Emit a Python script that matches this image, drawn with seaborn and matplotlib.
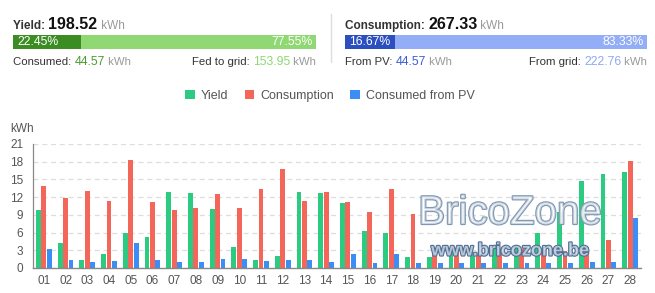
import matplotlib
matplotlib.use("Agg")
import matplotlib.pyplot as plt
import matplotlib.patheffects as pe
import numpy as np
import pandas as pd
import seaborn as sns

# ---------------- data ----------------
days = [f"{d:02d}" for d in range(1, 29)]
yield_kwh = [9.9, 4.3, 1.4, 2.3, 5.9, 5.3, 12.9, 12.7, 10.05, 3.5, 1.4, 2.1, 12.8, 12.7,
             11.0, 6.3, 5.9, 1.9, 1.8, 2.6, 2.6, 3.4, 3.4, 5.9, 9.5, 14.8, 15.9, 16.3]
consumption_kwh = [13.9, 11.9, 13.1, 11.3, 18.3, 11.2, 9.9, 10.2, 12.5, 10.2, 13.3, 16.7, 11.4, 12.8,
                   11.2, 9.5, 13.3, 9.15, 3.1, 2.7, 2.4, 3.1, 3.2, 3.0, 2.9, 3.6, 4.8, 18.2]
from_pv_kwh = [3.3, 1.3, 1.1, 1.2, 4.2, 1.4, 1.0, 1.0, 1.6, 1.6, 1.2, 1.35, 1.3, 1.1,
               2.3, 0.85, 2.4, 0.85, 0.9, 0.85, 0.85, 0.85, 0.8, 0.85, 0.85, 0.95, 1.0, 8.5]
series_names = ["Yield", "Consumption", "Consumed from PV"]
y_ticks = [0, 3, 6, 9, 12, 15, 18, 21]

yield_total = 198.52
consumption_total = 267.33
consumed_pv = 44.57
fed_to_grid = 153.95
from_grid = 222.76
yield_pcts = [22.45, 77.55]
cons_pcts = [16.67, 83.33]

# ---------------- style ----------------
sns.set_theme(style="white")
plt.rcParams["font.family"] = ["Liberation Sans", "DejaVu Sans"]

C_GREEN, C_RED, C_BLUE = "#2ccb82", "#f5665a", "#3b8ef5"
C_DKGREEN, C_LTGREEN = "#3b8c22", "#8fd873"
C_DKBLUE, C_LTBLUE = "#2c4fbf", "#93adf6"
TXT = "#333333"
GRAY = "#999999"

W, H = 655, 293
fig = plt.figure(figsize=(W / 100, H / 100), dpi=100)
fig.patch.set_facecolor("white")
renderer = fig.canvas.get_renderer()


def fx(px):
    return px / W


def fy(py):
    return 1 - py / H


def text_seq(x_px, y_px, pieces, align="left"):
    """pieces: list of (text, size, weight, color)."""
    objs = []
    for s, size, weight, color in pieces:
        t = fig.text(0, fy(y_px), s, fontsize=size, fontweight=weight, color=color,
                     va="baseline")
        objs.append(t)
    widths = [t.get_window_extent(renderer=renderer).width for t in objs]
    total = sum(widths)
    x = x_px if align == "left" else x_px - total
    for t, w in zip(objs, widths):
        t.set_x(fx(x))
        x += w
    return objs


# ---------------- header ----------------
text_seq(13, 29, [("Yield: ", 8.5, "bold", TXT), (f"{yield_total:.2f}", 11.5, "bold", "#111111"),
                  (" kWh", 8.5, "normal", GRAY)])
text_seq(345, 29, [("Consumption: ", 8.5, "bold", TXT), (f"{consumption_total:.2f}", 11.5, "bold", "#111111"),
                   (" kWh", 8.5, "normal", GRAY)])

# stacked percentage bars
for (x0, x1, pcts, cols) in [(13, 316, yield_pcts, (C_DKGREEN, C_LTGREEN)),
                             (345, 647, cons_pcts, (C_DKBLUE, C_LTBLUE))]:
    hax = fig.add_axes([fx(x0), fy(49), fx(x1 - x0), (49 - 35) / H])
    hax.barh([0], [pcts[0]], color=cols[0], height=1.0, linewidth=0)
    hax.barh([0], [pcts[1]], left=[pcts[0]], color=cols[1], height=1.0, linewidth=0)
    hax.set_xlim(0, 100)
    hax.set_ylim(-0.5, 0.5)
    hax.axis("off")
    hax.text(1.3, 0, f"{pcts[0]:.2f}%", color="white", fontsize=8.8, va="center", ha="left")
    hax.text(98.8, 0, f"{pcts[1]:.2f}%", color="white", fontsize=8.8, va="center", ha="right")

text_seq(13, 65, [("Consumed: ", 8.2, "normal", TXT), (f"{consumed_pv:.2f}", 8.8, "normal", "#4a9e2e"),
                  (" kWh", 8.2, "normal", GRAY)])
text_seq(316, 65, [("Fed to grid: ", 8.2, "normal", TXT), (f"{fed_to_grid:.2f}", 8.8, "normal", C_LTGREEN),
                   (" kWh", 8.2, "normal", GRAY)], align="right")
text_seq(345, 65, [("From PV: ", 8.2, "normal", TXT), (f"{consumed_pv:.2f}", 8.8, "normal", "#3a5fd6"),
                   (" kWh", 8.2, "normal", GRAY)])
text_seq(647, 65, [("From grid: ", 8.2, "normal", TXT), (f"{from_grid:.2f}", 8.8, "normal", "#8ea8f3"),
                   (" kWh", 8.2, "normal", GRAY)], align="right")

fig.add_artist(plt.Line2D([fx(330.5), fx(330.5)], [fy(14), fy(62)], color="#dddddd", lw=1))

# ---------------- main chart ----------------
df = pd.DataFrame({
    "day": days * 3,
    "value": yield_kwh + consumption_kwh + from_pv_kwh,
    "series": [series_names[0]] * 28 + [series_names[1]] * 28 + [series_names[2]] * 28,
})

ax = fig.add_axes([fx(33), fy(268), fx(641 - 33), (268 - 144) / H])
sns.barplot(data=df, x="day", y="value", hue="series", order=days, hue_order=series_names,
            palette=[C_GREEN, C_RED, C_BLUE], width=0.75, gap=0.08, ax=ax,
            saturation=1, linewidth=0, legend=True)
ax.set_ylim(0, 21)
ax.set_xlim(-0.5, 27.5)
ax.set_yticks(y_ticks)
ax.set_xlabel("")
ax.set_ylabel("")
ax.yaxis.grid(True, linestyle=(0, (4, 3)), color="#dddddd", linewidth=0.9)
ax.set_axisbelow(True)
for s in ["top", "right"]:
    ax.spines[s].set_visible(False)
ax.spines["left"].set_color("#888888")
ax.spines["bottom"].set_color("#888888")
ax.spines["left"].set_linewidth(0.9)
ax.spines["bottom"].set_linewidth(1.0)
ax.tick_params(axis="both", length=0, labelsize=8.5, colors="#555555")
ax.tick_params(axis="x", pad=5)
ax.tick_params(axis="y", pad=7)
ax.text(-0.038, 1.12, "kWh", transform=ax.transAxes, fontsize=8.5, color="#555555",
        ha="left", va="center")

handles, labels = ax.get_legend_handles_labels()
ax.legend_.remove()
fig.legend(handles, labels, loc="center", bbox_to_anchor=(fx(330), fy(96)), ncol=3,
           frameon=False, fontsize=9, handlelength=0.75, handleheight=0.75,
           handletextpad=0.5, columnspacing=1.3, labelcolor="#555555")

# ---------------- watermark ----------------
fig.text(fx(510), fy(213), "BricoZone", fontsize=29, color=(1, 1, 1, 0.6), ha="center", va="center",
         path_effects=[pe.withStroke(linewidth=1.6, foreground="#7f97b2")], zorder=10)
fig.text(fx(510), fy(251), "www.bricozone.be", fontsize=13, fontweight="bold", color=(1, 1, 1, 0.6),
         ha="center", va="center",
         path_effects=[pe.withStroke(linewidth=1.6, foreground="#4f6f96")], zorder=10)

fig.savefig("out.png", dpi=100, facecolor="white")
